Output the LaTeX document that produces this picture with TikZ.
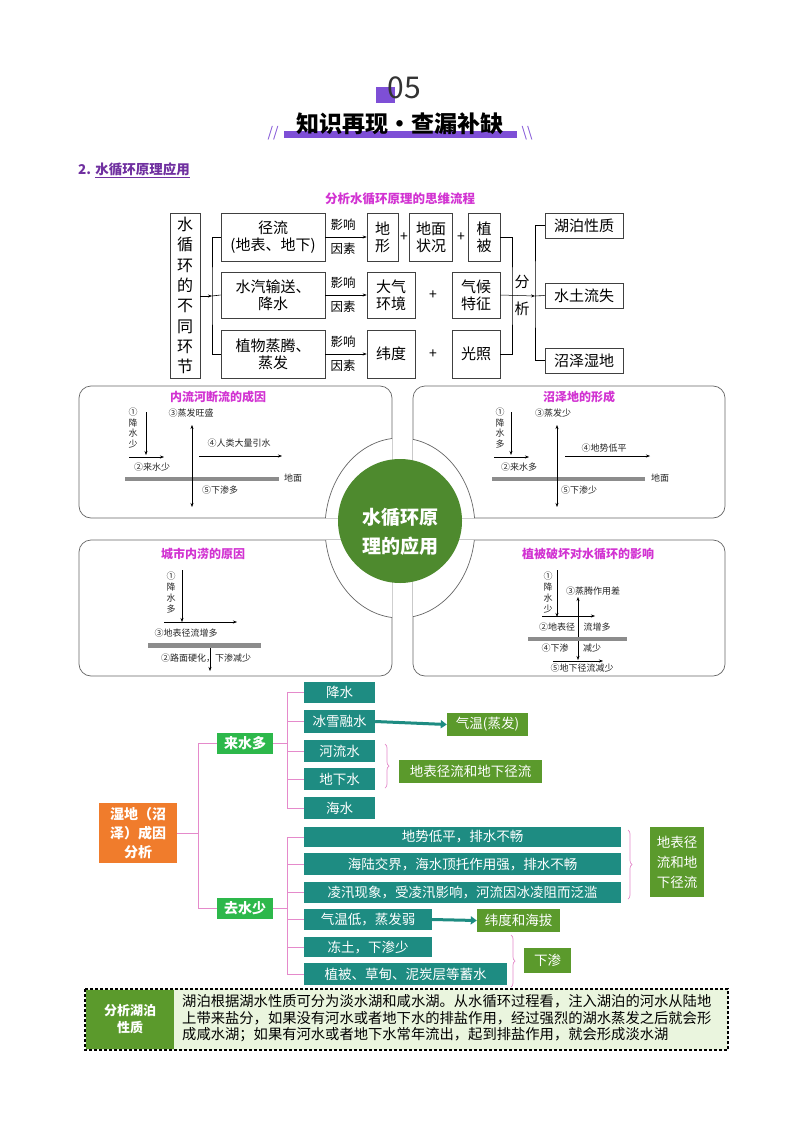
\documentclass[tikz,border=0pt]{standalone}
\usepackage{fontspec}
\setmainfont{Noto Sans CJK SC}
\usetikzlibrary{arrows.meta,decorations.pathreplacing}
\definecolor{pur}{HTML}{7E4FD6}
\definecolor{tpur}{HTML}{7030A0}
\definecolor{mag}{HTML}{D233D2}
\definecolor{teal1}{HTML}{1E8C82}
\definecolor{gr1}{HTML}{2DB84B}
\definecolor{ol}{HTML}{5B9A2C}
\definecolor{org}{HTML}{F07C2C}
\definecolor{pk}{HTML}{E58ACB}
\definecolor{cg}{HTML}{4E8A2E}
\definecolor{lg}{HTML}{EAF5DE}
\begin{document}
\begin{tikzpicture}[x=1pt,y=-1pt,
 fb/.style={draw=black!75,line width=0.6pt,inner sep=0pt,align=center,font=\fontsize{15}{17}\selectfont},
 sm/.style={font=\fontsize{12.5}{13}\selectfont,inner sep=0pt},
 pn/.style={draw=black!60,line width=0.7pt,rounded corners=12pt},
 pt/.style={text=mag,font=\bfseries\fontsize{12}{13}\selectfont,inner sep=0pt},
 dt/.style={font=\fontsize{9}{10}\selectfont,inner sep=0pt,text=black!85},
 ar/.style={-{Stealth[length=4pt,width=3pt]},line width=0.5pt},
 dar/.style={{Stealth[length=4pt,width=3pt]}-{Stealth[length=4pt,width=3pt]},line width=0.5pt},
 tb/.style={fill=teal1,text=white,inner sep=0pt,font=\fontsize{13.5}{15}\selectfont},
 ob/.style={fill=ol,text=white,inner sep=0pt,font=\fontsize{13.5}{16}\selectfont,align=center},
 gb/.style={fill=gr1,text=white,inner sep=0pt,font=\bfseries\fontsize{14}{15}\selectfont},
 pl/.style={draw=pk,line width=0.9pt},
 br/.style={pk,line width=0.7pt,decorate,decoration={brace,amplitude=4pt}}]
\useasboundingbox (0,0) rectangle (800,1134);
\fill[white] (0,0) rectangle (800,1134);
% header
\fill[pur] (376,87) rectangle (395,103);
\node[inner sep=0pt,font=\fontsize{30}{30}\selectfont,text=black!80] (num) at (404,88) {05};
\fill[pur] (284,131) rectangle (517,138);
\node[inner sep=0pt,font=\bfseries\fontsize{23}{24}\selectfont] (ttl) at (400,124) {知识再现·查漏补缺};
\node[inner sep=0pt,text=pur,font=\fontsize{14}{14}\selectfont] (s1) at (273,133) {//};
\node[inner sep=0pt,text=pur,font=\fontsize{14}{14}\selectfont] (s2) at (527,133) {\textbackslash\textbackslash};
\node[anchor=west,inner sep=0pt,text=tpur,font=\bfseries\fontsize{13.5}{14}\selectfont] (sec) at (78,170) {2. \underline{水循环原理应用}};
% flow chart
\node[inner sep=0pt,text=mag,font=\bfseries\fontsize{12.5}{13}\selectfont] (ft) at (400,199) {分析水循环原理的思维流程};
\node[fb,minimum width=30pt,minimum height=165pt,font=\fontsize{16}{20.3}\selectfont] (L) at (185,295.5) {水\\循\\环\\的\\不\\同\\环\\节};
\node[fb,minimum width=104pt,minimum height=48pt] (a1) at (273,237) {径流\\(地表、地下)};
\node[fb,minimum width=104pt,minimum height=46pt] (a2) at (273,295) {水汽输送、\\降水};
\node[fb,minimum width=104pt,minimum height=48pt] (a3) at (273,354) {植物蒸腾、\\蒸发};
\foreach \y/\n in {237/1,295/2,354/3}{
 \node[sm] (ya\n) at (343,\y-12) {影响};
 \node[sm] (yb\n) at (343,\y+12) {因素};
}
\node[fb,minimum width=31pt,minimum height=48pt] (b1) at (382.5,237) {地\\形};
\node[fb,minimum width=43pt,minimum height=48pt] (c1) at (431,237) {地面\\状况};
\node[fb,minimum width=32pt,minimum height=48pt] (d1) at (484,237) {植\\被};
\node[sm,font=\fontsize{14}{14}\selectfont] (p1) at (404,237) {+};
\node[sm,font=\fontsize{14}{14}\selectfont] (p2) at (461,237) {+};
\node[fb,minimum width=48pt,minimum height=46pt] (b2) at (391,295) {大气\\环境};
\node[sm,font=\fontsize{14}{14}\selectfont] (p3) at (433,295) {+};
\node[fb,minimum width=48pt,minimum height=46pt] (c2) at (476,295) {气候\\特征};
\node[fb,minimum width=48pt,minimum height=48pt] (b3) at (391,354) {纬度};
\node[sm,font=\fontsize{14}{14}\selectfont] (p4) at (433,354) {+};
\node[fb,minimum width=48pt,minimum height=48pt] (c3) at (476,354) {光照};
\node[fb,minimum width=78pt,minimum height=25pt] (e1) at (584,225.5) {湖泊性质};
\node[fb,minimum width=78pt,minimum height=25pt] (e2) at (584,295.5) {水土流失};
\node[fb,minimum width=78pt,minimum height=25pt] (e3) at (584,360.5) {沼泽湿地};
\node[inner sep=0pt,font=\fontsize{15}{15}\selectfont] (f1) at (522,282) {分};
\node[inner sep=0pt,font=\fontsize{15}{15}\selectfont] (f2) at (522,309) {析};
\coordinate (lb) at (212,296);
\draw[ar] (L.east|-lb) -- (lb);
\draw[line width=0.6pt] (a1.west) -| (212,296) |- (a3.west);
\draw[line width=0.6pt] (212,296) -- (a2.west);
\draw[ar] (a1.east) -- (b1.west);
\draw[ar] (a2.east) -- (b2.west);
\draw[ar] (a3.east) -- (b3.west);
\draw[line width=0.6pt] (d1.east) -| (512,296) |- (c3.east);
\coordinate (rb) at (535,296);
\draw[ar] (c2.east) -- (rb);
\draw[line width=0.6pt] (e1.west) -| (rb) |- (e3.west);
\draw[line width=0.6pt] (rb) -- (e2.west);
% panels
\draw[pn] (79,386) rectangle (392,518);
\draw[pn] (413,386) rectangle (725,518);
\draw[pn] (79,540) rectangle (392,676);
\draw[pn] (413,540) rectangle (725,676);
\begin{scope}
\clip (79,386) rectangle (392,518) (413,386) rectangle (725,518) (79,540) rectangle (392,676) (413,540) rectangle (725,676);
\draw[draw=black!60,line width=0.7pt,fill=white] (400,528) ellipse (75pt and 90pt);
\end{scope}
\fill[cg] (400,521) circle (62pt);
\node[inner sep=0pt,text=white,align=center,font=\bfseries\fontsize{19}{29}\selectfont] (cc) at (400,532) {水循环原\\理的应用};
% TL
\node[pt] (t1) at (218,397) {内流河断流的成因};
\node[dt,align=center,font=\fontsize{9}{10.5}\selectfont] (t1a) at (133,428) {①\\降\\水\\少};
\draw[ar] (146,412) -- (146,455);
\draw[ar] (129,457) -- (164,457);
\node[dt] (t1b) at (152,467) {②来水少};
\fill[black!45] (125,477) rectangle (279,481);
\node[dt] (t1c) at (293,478) {地面};
\draw[dar] (192,425) -- (192,507);
\node[dt] (t1d) at (191,413) {③蒸发旺盛};
\node[dt] (t1e) at (239,443) {④人类大量引水};
\draw[ar] (199,456) -- (282,456);
\node[dt] (t1f) at (220,490) {⑤下渗多};
% TR
\node[pt] (t2) at (579,397) {沼泽地的形成};
\node[dt,align=center,font=\fontsize{9}{10.5}\selectfont] (t2a) at (500,428) {①\\降\\水\\多};
\draw[ar] (511,412) -- (511,455);
\draw[ar] (494,457) -- (529,457);
\node[dt] (t2b) at (519,467) {②来水多};
\fill[black!45] (492,477) rectangle (645,481);
\node[dt] (t2c) at (660,478) {地面};
\draw[dar] (557,425) -- (557,507);
\node[dt] (t2d) at (553,413) {③蒸发少};
\node[dt] (t2e) at (604,448) {④地势低平};
\draw[ar] (565,456) -- (650,456);
\node[dt] (t2f) at (579,490) {⑤下渗少};
% BL
\node[pt] (t3) at (203,554) {城市内涝的原因};
\node[dt,align=center,font=\fontsize{9}{11}\selectfont] (t3a) at (171,593) {①\\降\\水\\多};
\draw[ar] (182,570) -- (182,622);
\draw[ar] (164,622) -- (237,622);
\node[dt] (t3b) at (186,633) {③地表径流增多};
\fill[black!45] (148,643) rectangle (261,648);
\node[dt] (t3c) at (206,658) {②路面硬化，下渗减少};
\draw[ar] (210,648) -- (210,671);
% BR
\node[pt] (t4) at (588,554) {植被破坏对水循环的影响};
\node[dt,align=center,font=\fontsize{9}{11}\selectfont] (t4a) at (548,593) {①\\降\\水\\少};
\draw[ar] (557,570) -- (557,617);
\draw[ar] (542,616) -- (595,616);
\draw[dar] (578,597) -- (578,660);
\node[dt] (t4b) at (593,591) {③蒸腾作用差};
\node[dt] (t4c) at (557,627) {②地表径};
\node[dt] (t4d) at (597,627) {流增多};
\fill[black!45] (528,637) rectangle (627,641);
\node[dt] (t4e) at (555,648) {④下渗};
\node[dt] (t4f) at (592,648) {减少};
\draw[ar] (553,661) -- (603,661);
\node[dt] (t4g) at (582,668) {⑤地下径流减少};
% wetland tree
\node[fill=org,text=white,inner sep=0pt,align=center,minimum width=78pt,minimum height=60pt,font=\bfseries\fontsize{14}{19}\selectfont] (w) at (138,833) {湿地（沼\\泽）成因\\分析};
\node[gb,minimum width=56pt,minimum height=21pt] (lai) at (245,743) {来水多};
\node[gb,minimum width=56pt,minimum height=21pt] (qu) at (245,908.5) {去水少};
\node[tb,minimum width=71pt,minimum height=21pt] (n1) at (339.5,692.5) {降水};
\node[tb,minimum width=71pt,minimum height=23pt] (n2) at (339.5,721.5) {冰雪融水};
\node[tb,minimum width=71pt,minimum height=22pt] (n3) at (339.5,751) {河流水};
\node[tb,minimum width=71pt,minimum height=22pt] (n4) at (339.5,779) {地下水};
\node[tb,minimum width=71pt,minimum height=22pt] (n5) at (339.5,808) {海水};
\node[tb,minimum width=317pt,minimum height=20pt] (m1) at (462.5,837) {地势低平，排水不畅};
\node[tb,minimum width=317pt,minimum height=22pt] (m2) at (462.5,864) {海陆交界，海水顶托作用强，排水不畅};
\node[tb,minimum width=317pt,minimum height=21pt] (m3) at (462.5,892.5) {凌汛现象，受凌汛影响，河流因冰凌阻而泛滥};
\node[tb,minimum width=128pt,minimum height=21pt] (m4) at (368,919.5) {气温低，蒸发弱};
\node[tb,minimum width=128pt,minimum height=20pt] (m5) at (368,947) {冻土，下渗少};
\node[tb,minimum width=203pt,minimum height=22pt] (m6) at (405.5,974) {植被、草甸、泥炭层等蓄水};
\node[ob,minimum width=81pt,minimum height=23pt] (o1) at (487.5,724.5) {气温(蒸发)};
\node[ob,minimum width=143pt,minimum height=23pt] (o2) at (470.5,771.5) {地表径流和地下径流};
\node[ob,minimum width=54pt,minimum height=70pt,font=\fontsize{13.5}{20}\selectfont] (o3) at (677,862) {地表径\\流和地\\下径流};
\node[ob,minimum width=83pt,minimum height=23pt] (o4) at (518.5,920.5) {纬度和海拔};
\node[ob,minimum width=47pt,minimum height=25pt] (o5) at (547.5,960.5) {下渗};
\draw[teal1,line width=3pt,-{Triangle[length=6pt,width=8pt]}] (n2.east) -- (o1.west);
\draw[teal1,line width=3pt,-{Triangle[length=6pt,width=8pt]}] (m4.east) -- (o4.west);
\draw[pl] (w.east) -- (198,833);
\draw[pl] (lai.west) -| (198,908.5) -- (qu.west);
\draw[pl] (lai.east) -- (287,743);
\draw[pl] (n1.west) -| (287,808) -- (n5.west);
\foreach \n in {n2,n3,n4} \draw[pl] (287,0|-\n.west) -- (\n.west);
\draw[pl] (qu.east) -- (287,908.5);
\draw[pl] (m1.west) -| (287,974) -- (m6.west);
\foreach \n in {m2,m3,m4,m5} \draw[pl] (287,0|-\n.west) -- (\n.west);
\draw[br] (385,744) -- (385,788);
\draw[br] (628,830) -- (628,899);
\draw[br] (511,935) -- (511,987);
% lake box
\draw[densely dashed,line width=1.1pt,fill=lg] (85,989) rectangle (728,1050);
\fill[ol] (86,990) rectangle (174,1049);
\node[inner sep=0pt,text=white,align=center,font=\bfseries\fontsize{13}{17}\selectfont] (lk) at (130,1019) {分析湖泊\\性质};
\node[inner sep=0pt,anchor=north west,align=left,font=\fontsize{14.3}{16.8}\selectfont] (lt) at (182,994) {湖泊根据湖水性质可分为淡水湖和咸水湖。从水循环过程看，注入湖泊的河水从陆地\\上带来盐分，如果没有河水或者地下水的排盐作用，经过强烈的湖水蒸发之后就会形\\成咸水湖；如果有河水或者地下水常年流出，起到排盐作用，就会形成淡水湖};
\end{tikzpicture}
\end{document}
